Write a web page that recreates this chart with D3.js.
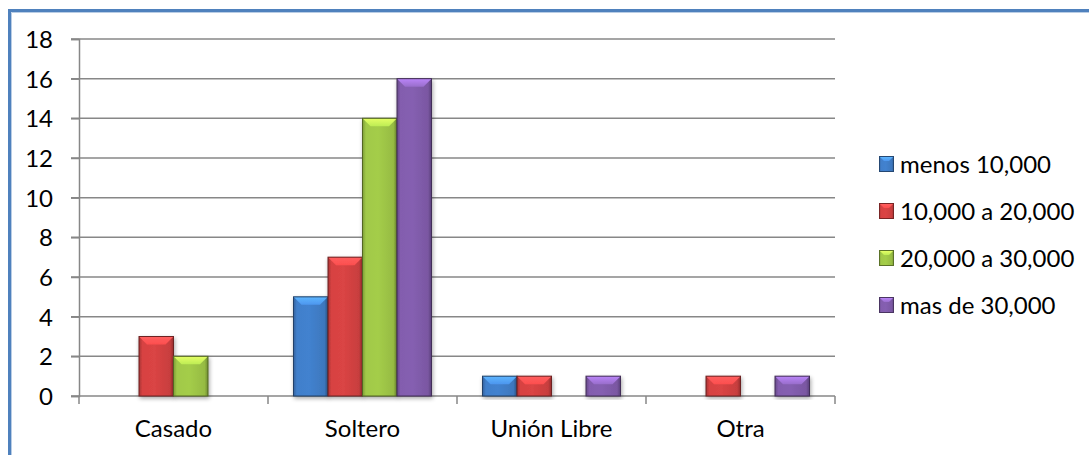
<!DOCTYPE html>
<html>
<head>
<meta charset="utf-8">
<script src="https://cdn.jsdelivr.net/npm/d3@7"></script>
<style>
  body { margin: 0; background: #fff; }
  svg text { font-family: "Lato", "Open Sans", sans-serif; fill: #000; }
</style>
</head>
<body>
<svg id="chart" width="1089" height="455"></svg>
<script>
var categories = ["Casado", "Soltero", "Unión Libre", "Otra"];
var seriesNames = ["menos 10,000", "10,000 a 20,000", "20,000 a 30,000", "mas de 30,000"];
var menos10 = [0, 5, 1, 0];
var de10a20 = [3, 7, 1, 1];
var de20a30 = [2, 14, 0, 0];
var mas30 = [0, 16, 1, 1];
var yTicks = [0, 2, 4, 6, 8, 10, 12, 14, 16, 18];
var colors = ["#3f7bc4", "#cf4040", "#9bc245", "#7e5aa8"];

var seriesValues = [menos10, de10a20, de20a30, mas30];

var svg = d3.select("#chart");
var defs = svg.append("defs");

// outer frame (only top and left edges fall inside the picture)
svg.append("path")
    .attr("d", "M9.5,1100 L9.5,10.5 L1100,10.5")
    .attr("fill", "none")
    .attr("stroke", "#4f81bd")
    .attr("stroke-width", 3);
svg.append("path")
    .attr("d", "M11.5,1100 L11.5,12.5 L1100,12.5")
    .attr("fill", "none")
    .attr("stroke", "#b9cde5")
    .attr("stroke-width", 1);

var x0 = d3.scaleBand().domain(categories).range([79, 835]).paddingInner(0).paddingOuter(0);
var x1 = d3.scaleBand().domain(d3.range(seriesNames.length)).range([25.5, x0.bandwidth() - 25.5]);
var y = d3.scaleLinear().domain([0, 18]).range([396, 39]);

// gradients per series
colors.forEach(function (c, i) {
    var base = d3.color(c);
    var g = defs.append("linearGradient").attr("id", "side" + i).attr("x1", 0).attr("x2", 1);
    g.append("stop").attr("offset", "0%").attr("stop-color", base.darker(0.6));
    g.append("stop").attr("offset", "10%").attr("stop-color", base.brighter(0.1));
    g.append("stop").attr("offset", "45%").attr("stop-color", base.brighter(0.15));
    g.append("stop").attr("offset", "90%").attr("stop-color", base.darker(0.1));
    g.append("stop").attr("offset", "100%").attr("stop-color", base.darker(0.9));
    var t = defs.append("linearGradient").attr("id", "top" + i).attr("x1", 0).attr("x2", 0).attr("y1", 0).attr("y2", 1);
    t.append("stop").attr("offset", "0%").attr("stop-color", base.brighter(1.1));
    t.append("stop").attr("offset", "100%").attr("stop-color", base.brighter(0.55));
});

var shadow = defs.append("filter").attr("id", "shadow").attr("x", "-20%").attr("y", "-20%").attr("width", "140%").attr("height", "140%");
shadow.append("feGaussianBlur").attr("in", "SourceAlpha").attr("stdDeviation", 2);
shadow.append("feOffset").attr("dx", 1).attr("dy", 2).attr("result", "b");
shadow.append("feComponentTransfer").append("feFuncA").attr("type", "linear").attr("slope", 0.35);
var merge = shadow.append("feMerge");
merge.append("feMergeNode");
merge.append("feMergeNode").attr("in", "SourceGraphic");

// gridlines
svg.append("g").selectAll("line")
    .data(yTicks)
    .enter().append("line")
    .attr("x1", 71).attr("x2", 835)
    .attr("y1", function (d) { return y(d); })
    .attr("y2", function (d) { return y(d); })
    .attr("stroke", "#878787")
    .attr("stroke-width", 1.5);

// y axis
var yAxis = svg.append("g").attr("transform", "translate(79,0)")
    .call(d3.axisLeft(y).tickValues(yTicks).tickSize(8).tickPadding(18));
yAxis.select(".domain").attr("stroke", "#878787").attr("stroke-width", 1.5);
yAxis.selectAll(".tick line").attr("stroke", "#878787").attr("stroke-width", 1.5);
yAxis.selectAll("text").style("font-size", "24px").attr("dy", "0.36em");

// x axis
var xAxis = svg.append("g").attr("transform", "translate(0,396)")
    .call(d3.axisBottom(x0).tickSize(0).tickPadding(24));
xAxis.select(".domain").remove();
xAxis.selectAll("text").style("font-size", "24px");
svg.append("g").selectAll("line")
    .data(categories.concat(["end"]))
    .enter().append("line")
    .attr("x1", function (d, i) { return 79 + i * x0.step(); })
    .attr("x2", function (d, i) { return 79 + i * x0.step(); })
    .attr("y1", 396).attr("y2", 404)
    .attr("stroke", "#878787").attr("stroke-width", 1.5);

// bars
var bars = [];
categories.forEach(function (cat, ci) {
    seriesValues.forEach(function (vals, si) {
        if (vals[ci] > 0) bars.push({cat: cat, s: si, v: vals[ci]});
    });
});

var bar = svg.append("g").selectAll("g.bar")
    .data(bars)
    .enter().append("g")
    .attr("class", "bar")
    .attr("filter", "url(#shadow)");

var bev = 8;
bar.append("rect")
    .attr("x", function (d) { return x0(d.cat) + x1(d.s); })
    .attr("y", function (d) { return y(d.v); })
    .attr("width", x1.bandwidth())
    .attr("height", function (d) { return y(0) - y(d.v); })
    .attr("fill", function (d) { return "url(#side" + d.s + ")"; });

bar.append("path")
    .attr("d", function (d) {
        var l = x0(d.cat) + x1(d.s), r = l + x1.bandwidth(), t = y(d.v);
        var b = Math.min(bev, (y(0) - t) / 2);
        return "M" + l + "," + t + "L" + r + "," + t + "L" + (r - b) + "," + (t + b) + "L" + (l + b) + "," + (t + b) + "Z";
    })
    .attr("fill", function (d) { return "url(#top" + d.s + ")"; });

bar.append("rect")
    .attr("x", function (d) { return x0(d.cat) + x1(d.s); })
    .attr("y", function (d) { return y(d.v); })
    .attr("width", x1.bandwidth())
    .attr("height", function (d) { return y(0) - y(d.v); })
    .attr("fill", "none")
    .attr("stroke", function (d) { return d3.color(colors[d.s]).darker(1.8); })
    .attr("stroke-width", 1);

// legend
var legend = svg.append("g").selectAll("g")
    .data(seriesNames)
    .enter().append("g")
    .attr("transform", function (d, i) { return "translate(879," + (164 + i * 47) + ")"; });

legend.append("rect")
    .attr("x", 0.5).attr("y", -7.5).attr("width", 14).attr("height", 15)
    .attr("fill", function (d, i) { return "url(#side" + i + ")"; })
    .attr("stroke", function (d, i) { return d3.color(colors[i]).darker(1.5); });
legend.append("path")
    .attr("d", "M1,-7L14,-7L10,-3L5,-3Z")
    .attr("fill", function (d, i) { return "url(#top" + i + ")"; });
legend.append("text")
    .attr("x", 21).attr("y", 0).attr("dy", "0.36em")
    .style("font-size", "24px")
    .text(function (d) { return d; });
</script>
</body>
</html>
